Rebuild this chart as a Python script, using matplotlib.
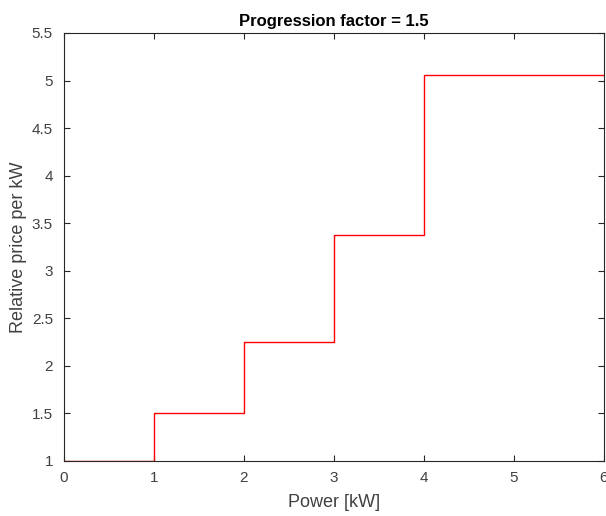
import matplotlib
matplotlib.use("Agg")
import matplotlib.pyplot as plt
import numpy as np

# Data
power_edges = [0, 1, 2, 3, 4, 6]
price_levels = [1.0, 1.5, 2.25, 3.375, 5.0625]
x_ticks = [0, 1, 2, 3, 4, 5, 6]
y_ticks = [1, 1.5, 2, 2.5, 3, 3.5, 4, 4.5, 5, 5.5]
y_tick_labels = ["1", "1.5", "2", "2.5", "3", "3.5", "4", "4.5", "5", "5.5"]

plt.rcParams['font.family'] = ['Liberation Sans', 'DejaVu Sans']

fig = plt.figure(figsize=(6.06, 5.16), dpi=100)
ax = fig.add_axes([64/606, 55/516, 540/606, 428/516])

xs = np.array(power_edges, dtype=float)
ys = np.array(price_levels + [price_levels[-1]], dtype=float)
ax.step(xs, ys, where='post', color='#ff0000', linewidth=1.0)

ax.set_xlim(0, 6)
ax.set_ylim(1, 5.5)
ax.set_xticks(x_ticks)
ax.set_yticks(y_ticks)
ax.set_yticklabels(y_tick_labels)

dark = '#262626'
lab = '#404040'
for s in ax.spines.values():
    s.set_color(dark)
    s.set_linewidth(0.8)
ax.tick_params(direction='in', top=True, right=True, length=4, width=0.8,
               colors=dark, labelsize=11, labelcolor=lab)
ax.tick_params(axis='y', pad=8)
ax.tick_params(axis='x', pad=7)

ax.set_xlabel('Power [kW]', fontsize=13, color=lab, labelpad=7)
ax.set_ylabel('Relative price per kW', fontsize=13, color=lab)
ax.yaxis.set_label_coords(-0.068, 0.5)
ax.set_title('Progression factor = 1.5', fontsize=12, fontweight='bold', color='black', pad=5)

fig.savefig('out.png', dpi=100)
